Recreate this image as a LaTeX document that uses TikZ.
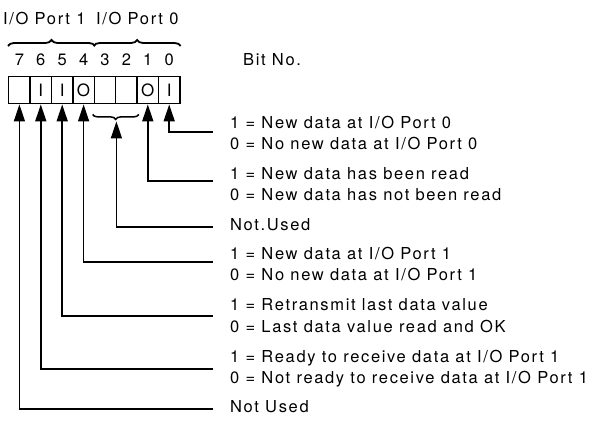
\documentclass[tikz,border=0pt]{standalone}
\usepackage{fontspec}
\setmainfont{TeX Gyre Heros}[LetterSpace=10]
\usetikzlibrary{arrows.meta,decorations.pathreplacing,calc}
\begin{document}
\begin{tikzpicture}[x=1pt,y=-1pt,
  cell/.style={draw,line width=1.4pt,minimum width=21.4pt,minimum height=27pt,inner sep=0pt,anchor=north west,font=\fontsize{17}{17}\selectfont},
  lbl/.style={anchor=west,inner sep=0pt,font=\fontsize{16.5}{18}\selectfont},
  dig/.style={inner sep=0pt,font=\fontsize{16.5}{18}\selectfont},
  conn/.style={line width=1.5pt,-{Triangle[length=17pt,width=11pt]}},
  brc/.style={decorate,decoration={brace,amplitude=6pt},line width=1.8pt},
  ]
\useasboundingbox (0,0) rectangle (595,421);
% register cells
\foreach \b/\t [count=\i from 0] in {7/{},6/I,5/I,4/O,3/{},2/{},1/O,0/I}{
  \node[cell] (c\b) at (8+21.4*\i,76) {\t};
  \node[dig] (d\b) at ($(c\b.north)+(0,-16)$) {\b};
}
% titles and braces
\node[lbl] (p1) at (3,18) {I/O Port 1};
\node[lbl] (p0) at (96,18) {I/O Port 0};
\draw[brc] ($(c7.north west)+(0,-30)$) -- ($(c4.north east)+(0,-30)$);
\draw[brc] ($(c3.north west)+(0,-30)$) -- ($(c0.north east)+(0,-30)$);
\node[lbl] (bitno) at (243,60) {Bit No.};
% lower brace for bits 3,2
\draw[decorate,decoration={brace,amplitude=5pt},line width=1.5pt] ($(c2.south east)+(1,10)$) -- ($(c3.south west)+(-1,10)$);
\coordinate (bt) at ($(c3.south east)+(0,17)$);
% labels
\node[lbl] (t0a) at (230,122) {1 = New data at I/O Port 0};
\node[lbl] (t0b) at (230,143) {0 = No new data at I/O Port 0};
\node[lbl] (t1a) at (230,174) {1 = New data has been read};
\node[lbl] (t1b) at (230,195) {0 = New data has not been read};
\node[lbl] (t32) at (230,225) {Not.Used};
\node[lbl] (t4a) at (230,253) {1 = New data at I/O Port 1};
\node[lbl] (t4b) at (230,274) {0 = No new data at I/O Port 1};
\node[lbl] (t5a) at (230,305) {1 = Retransmit last data value};
\node[lbl] (t5b) at (230,326) {0 = Last data value read and OK};
\node[lbl] (t6a) at (230,358) {1 = Ready to receive data at I/O Port 1};
\node[lbl] (t6b) at (230,379) {0 = Not ready to receive data at I/O Port 1};
\node[lbl] (t7) at (230,407) {Not Used};
% connector ends
\coordinate (e0) at (213,132);
\coordinate (e1) at (213,181);
\coordinate (e32) at (213,227);
\coordinate (e4) at (213,262);
\coordinate (e5) at (213,316);
\coordinate (e6) at (213,369);
\coordinate (e7) at (213,409);
\draw[conn] (e0) -| (c0.south);
\draw[conn] (e1) -| (c1.south);
\draw[conn] (e32) -| (bt);
\draw[conn] (e4) -| (c4.south);
\draw[conn] (e5) -| (c5.south);
\draw[conn] (e6) -| (c6.south);
\draw[conn] (e7) -| (c7.south);
\end{tikzpicture}
\end{document}
